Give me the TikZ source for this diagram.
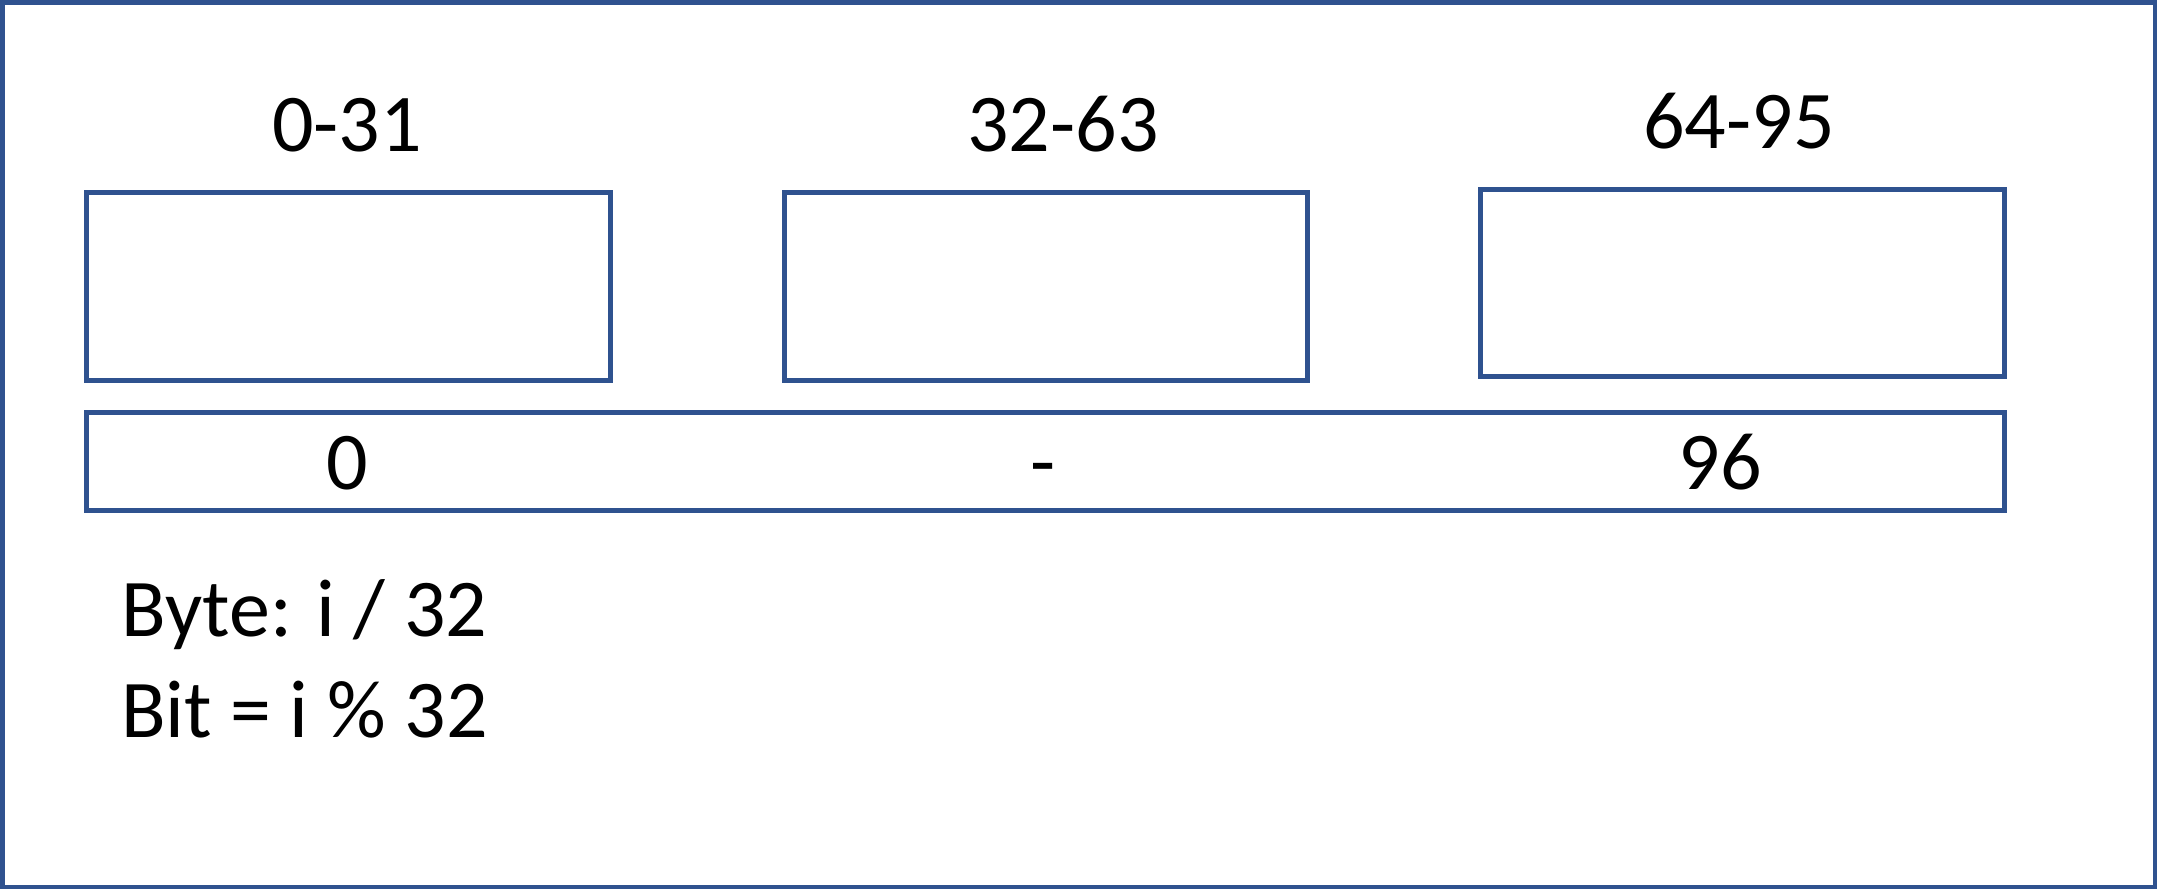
\documentclass[tikz,border=0pt]{standalone}
\usepackage{fontspec}
\setmainfont{Carlito}
\definecolor{frameblue}{RGB}{47,82,143}
\begin{document}
\begin{tikzpicture}[x=1pt,y=-1pt,
  box/.style={draw=frameblue,line width=4.5pt,rectangle,inner sep=0pt,anchor=north west},
  lbl/.style={anchor=base,inner sep=0pt,font=\fontsize{82}{98}\selectfont},
  txt/.style={anchor=base west,inner sep=0pt,font=\fontsize{82}{98}\selectfont}]
\useasboundingbox (0,0) rectangle (2157,889);
\draw[frameblue,line width=4.5pt] (2.25,2.25) rectangle (2154.75,886.75);
\node[box,minimum width=524pt,minimum height=188pt] (b1) at (84,190) {};
\node[box,minimum width=523pt,minimum height=188pt] (b2) at (782,190) {};
\node[box,minimum width=524pt,minimum height=187pt] (b3) at (1478,187) {};
\node[box,minimum width=1918pt,minimum height=98pt] (w) at (84,410) {};
\node[lbl] (l1) at (347,151) {0-31};
\node[lbl] (l2) at (1063,151) {32-63};
\node[lbl] (l3) at (1739,148) {64-95};
\node[lbl] (v1) at (347,489) {0};
\node[lbl] (v2) at (1043,489) {-};
\node[lbl] (v3) at (1720,489) {96};
\node[txt] (t1) at (121,636) {Byte: i / 32};
\node[txt] (t2) at (121,737) {Bit = i \% 32};
\end{tikzpicture}
\end{document}
